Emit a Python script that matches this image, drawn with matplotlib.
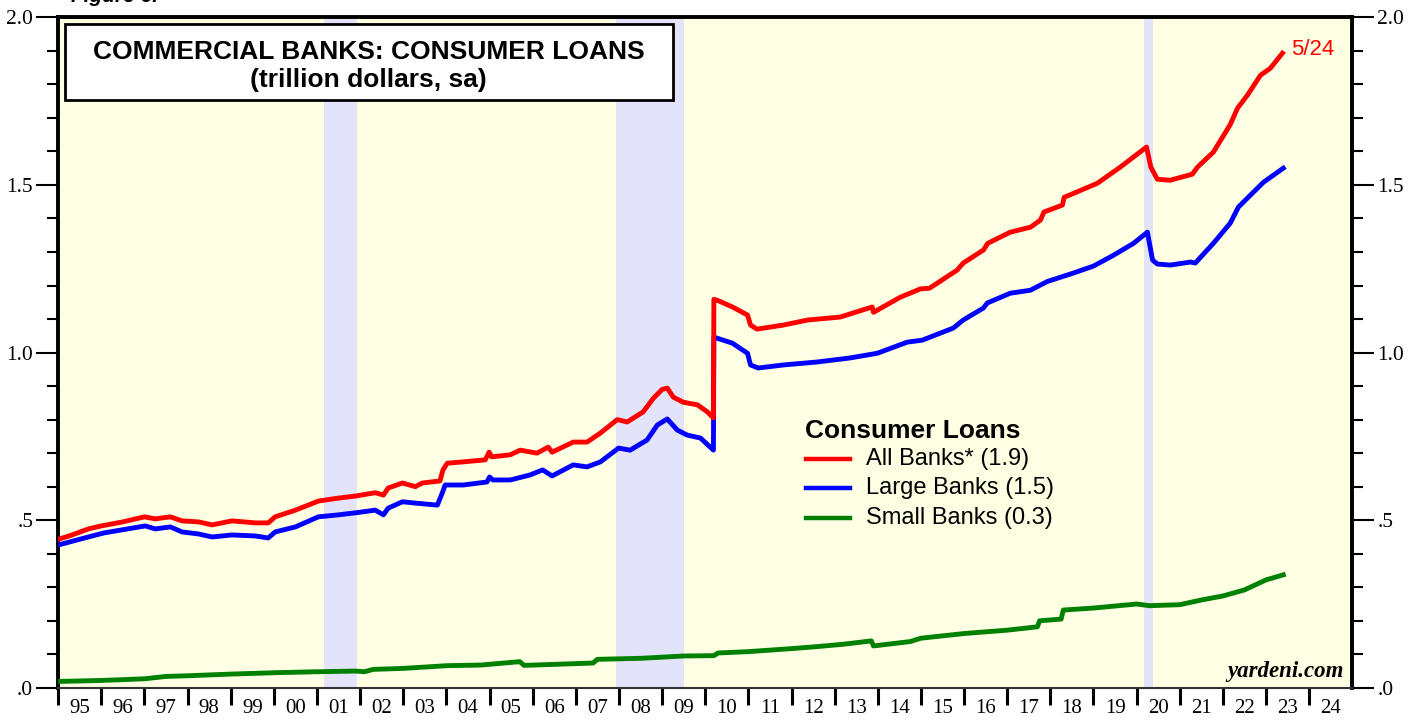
import matplotlib.pyplot as plt
from matplotlib.ticker import MultipleLocator, FixedLocator, NullFormatter, FixedFormatter
from matplotlib.patches import Rectangle

# Data (year, trillion dollars)
all_years = [1995.0, 1995.3, 1995.7, 1996.0, 1996.5, 1997.0, 1997.25, 1997.6, 1997.87, 1998.25,
             1998.57, 1999.03, 1999.57, 1999.87, 2000.03, 2000.5, 2001.03, 2001.5, 2001.89, 2002.35,
             2002.54, 2002.65, 2002.98, 2003.28, 2003.44, 2003.85, 2003.92, 2004.02, 2004.39, 2004.9,
             2004.99, 2005.05, 2005.48, 2005.71, 2006.1, 2006.36, 2006.45, 2006.94, 2007.26, 2007.57,
             2007.96, 2008.19, 2008.56, 2008.8, 2009.0, 2009.12, 2009.26, 2009.49, 2009.82, 2010.05,
             2010.19, 2010.2, 2010.3, 2010.63, 2010.98, 2011.05, 2011.2, 2011.81, 2012.37, 2013.13,
             2013.87, 2013.9, 2014.52, 2014.99, 2015.2, 2015.84, 2015.98, 2016.45, 2016.55, 2017.07,
             2017.54, 2017.77, 2017.85, 2018.28, 2018.32, 2019.09, 2019.62, 2020.23, 2020.33, 2020.48,
             2020.78, 2021.29, 2021.41, 2021.78, 2022.17, 2022.34, 2022.57, 2022.87, 2023.1, 2023.38]
all_banks = [0.443, 0.455, 0.474, 0.483, 0.495, 0.51, 0.504, 0.51, 0.498, 0.495,
             0.486, 0.498, 0.492, 0.492, 0.51, 0.53, 0.557, 0.566, 0.572, 0.582,
             0.575, 0.596, 0.611, 0.6, 0.611, 0.617, 0.65, 0.67, 0.674, 0.68,
             0.703, 0.689, 0.695, 0.709, 0.7, 0.718, 0.703, 0.733, 0.733, 0.76,
             0.8, 0.793, 0.823, 0.864, 0.89, 0.894, 0.867, 0.852, 0.844, 0.823,
             0.805, 1.159, 1.155, 1.136, 1.112, 1.082, 1.07, 1.082, 1.097, 1.106,
             1.136, 1.12, 1.165, 1.19, 1.192, 1.246, 1.267, 1.306, 1.326, 1.359,
             1.374, 1.395, 1.419, 1.44, 1.463, 1.505, 1.553, 1.613, 1.553, 1.517,
             1.514, 1.532, 1.553, 1.598, 1.68, 1.729, 1.768, 1.827, 1.848, 1.893]

large_years = [1995.0, 1995.7, 1996.06, 1997.02, 1997.25, 1997.6, 1997.87, 1998.25, 1998.57, 1999.03,
               1999.57, 1999.87, 2000.03, 2000.5, 2001.03, 2001.5, 2001.89, 2002.35, 2002.54, 2002.65,
               2002.98, 2003.28, 2003.79, 2003.9, 2003.97, 2004.39, 2004.94, 2005.0, 2005.08, 2005.48,
               2005.94, 2006.23, 2006.45, 2006.94, 2007.26, 2007.57, 2007.99, 2008.26, 2008.65, 2008.89,
               2009.12, 2009.35, 2009.58, 2009.89, 2010.19, 2010.2, 2010.63, 2010.98, 2011.05, 2011.23,
               2011.81, 2012.6, 2013.36, 2013.99, 2014.68, 2015.03, 2015.75, 2015.98, 2016.45, 2016.54,
               2017.07, 2017.54, 2017.93, 2018.53, 2019.0, 2019.46, 2019.93, 2020.25, 2020.37, 2020.48,
               2020.78, 2021.25, 2021.36, 2021.78, 2022.17, 2022.36, 2022.94, 2023.4]
large_banks = [0.426, 0.45, 0.462, 0.483, 0.474, 0.48, 0.465, 0.459, 0.45, 0.456,
               0.453, 0.447, 0.465, 0.48, 0.51, 0.516, 0.522, 0.53, 0.516, 0.536,
               0.555, 0.551, 0.545, 0.58, 0.605, 0.605, 0.614, 0.629, 0.62, 0.62,
               0.635, 0.65, 0.632, 0.665, 0.659, 0.674, 0.715, 0.709, 0.739, 0.784,
               0.802, 0.769, 0.754, 0.745, 0.709, 1.046, 1.028, 0.998, 0.963, 0.954,
               0.963, 0.972, 0.984, 0.998, 1.031, 1.037, 1.073, 1.097, 1.133, 1.148,
               1.177, 1.186, 1.212, 1.237, 1.258, 1.29, 1.326, 1.359, 1.276, 1.264,
               1.261, 1.27, 1.267, 1.326, 1.386, 1.434, 1.508, 1.55]

small_years = [1995.0, 1996.0, 1997.0, 1997.5, 1998.0, 1999.0, 2000.0, 2001.0, 2001.9, 2002.1,
               2002.3, 2003.0, 2004.0, 2004.8, 2005.7, 2005.8, 2006.5, 2007.4, 2007.5, 2008.5,
               2009.5, 2010.2, 2010.3, 2011.0, 2012.0, 2012.5, 2013.2, 2013.85, 2013.9, 2014.75,
               2015.0, 2016.0, 2017.0, 2017.7, 2017.75, 2018.25, 2018.3, 2019.0, 2020.0, 2020.3,
               2021.0, 2021.5, 2022.0, 2022.5, 2023.0, 2023.4]
small_banks = [0.019, 0.022, 0.027, 0.034, 0.036, 0.041, 0.045, 0.048, 0.05, 0.048,
               0.055, 0.058, 0.066, 0.068, 0.078, 0.067, 0.07, 0.074, 0.085, 0.088,
               0.095, 0.096, 0.104, 0.108, 0.117, 0.122, 0.13, 0.14, 0.125, 0.138,
               0.148, 0.162, 0.172, 0.182, 0.2, 0.205, 0.232, 0.238, 0.25, 0.245,
               0.248, 0.262, 0.274, 0.292, 0.322, 0.337]

recessions = [(2001.17, 2001.92), (2007.93, 2009.5), (2020.17, 2020.37)]
year_labels = ["95", "96", "97", "98", "99", "00", "01", "02", "03", "04", "05", "06", "07", "08", "09",
               "10", "11", "12", "13", "14", "15", "16", "17", "18", "19", "20", "21", "22", "23", "24"]
y_ticks = [0.0, 0.5, 1.0, 1.5, 2.0]
y_labels = [".0", ".5", "1.0", "1.5", "2.0"]

sans = "Liberation Sans"
serif = "Liberation Serif"

fig = plt.figure(figsize=(14.19, 7.21), dpi=100)
ax = fig.add_axes([0.041, 0.046, 0.912, 0.930])
ax.set_facecolor("#FFFFE3")

for start, end in recessions:
    ax.axvspan(start, end, color="#E3E3FA", lw=0, zorder=0)

ax.plot(small_years, small_banks, color="#008000", lw=3.5, zorder=3)
ax.plot(large_years, large_banks, color="#0000FF", lw=3.5, zorder=4)
ax.plot(all_years, all_banks, color="#FF0000", lw=3.5, zorder=5)

ax.set_xlim(1995, 2025)
ax.set_ylim(0, 2.0)

# x axis: ticks at year boundaries, labels centred in between
ax.xaxis.set_major_locator(FixedLocator(list(range(1995, 2025))))
ax.xaxis.set_major_formatter(NullFormatter())
ax.xaxis.set_minor_locator(FixedLocator([y + 0.5 for y in range(1995, 2025)]))
ax.xaxis.set_minor_formatter(FixedFormatter(year_labels))
ax.tick_params(axis="x", which="major", direction="out", length=12, width=2.2, color="black")
ax.tick_params(axis="x", which="minor", length=0, pad=8, labelsize=15)
for lab in ax.xaxis.get_minorticklabels():
    lab.set_fontfamily(serif)

# y axis on both sides
ax.set_yticks(y_ticks)
ax.set_yticklabels(y_labels)
ax.yaxis.set_minor_locator(MultipleLocator(0.1))
ax.tick_params(axis="y", which="major", direction="out", length=16, width=1.5,
               left=True, right=True, labelleft=True, labelright=True, labelsize=15.5, pad=2)
ax.tick_params(axis="y", which="minor", direction="out", length=8, width=1.5,
               left=True, right=True)
for t in ax.yaxis.get_major_ticks():
    t.label1.set_fontfamily(serif)
    t.label2.set_fontfamily(serif)

for side in ["left", "right", "top"]:
    ax.spines[side].set_linewidth(2.8)
ax.spines["bottom"].set_linewidth(1.5)
ax.spines["bottom"].set_color("#333333")

# title box
box = Rectangle((0.005, 0.876), 0.47, 0.114, transform=ax.transAxes, facecolor="white",
                edgecolor="black", lw=2, zorder=6)
ax.add_patch(box)
ax.text(0.24, 0.949, "COMMERCIAL BANKS: CONSUMER LOANS", transform=ax.transAxes,
        ha="center", va="center", fontsize=19, fontweight="bold", family=sans, zorder=7)
ax.text(0.24, 0.907, "(trillion dollars, sa)", transform=ax.transAxes,
        ha="center", va="center", fontsize=19, fontweight="bold", family=sans, zorder=7)

# legend drawn by hand to match the layout
ax.text(0.577, 0.383, "Consumer Loans", transform=ax.transAxes, ha="left", va="center",
        fontsize=19, fontweight="bold", family=sans, zorder=7)
legend_items = [("All Banks* (1.9)", "#FF0000"), ("Large Banks (1.5)", "#0000FF"),
                ("Small Banks (0.3)", "#008000")]
for i, (label, color) in enumerate(legend_items):
    yy = 0.341 - i * 0.0435
    ax.plot([0.578, 0.612], [yy, yy], transform=ax.transAxes, color=color, lw=3.2, zorder=7)
    ax.text(0.624, yy, label, transform=ax.transAxes, ha="left", va="center",
            fontsize=17, family=sans, zorder=7)

ax.text(all_years[-1] + 0.2, all_banks[-1] + 0.01, "5/24", color="#FF0000", fontsize=16,
        family=sans, ha="left", va="center", zorder=7)
ax.text(0.993, 0.008, "yardeni.com", transform=ax.transAxes, ha="right", va="bottom",
        fontsize=16.5, fontweight="bold", style="italic", family=serif, zorder=7)

fig.text(0.05, 1.005, "Figure 6.", fontsize=15, fontweight="bold", style="italic",
         family=sans, ha="left", va="center")

fig.savefig("out.png", dpi=100)
